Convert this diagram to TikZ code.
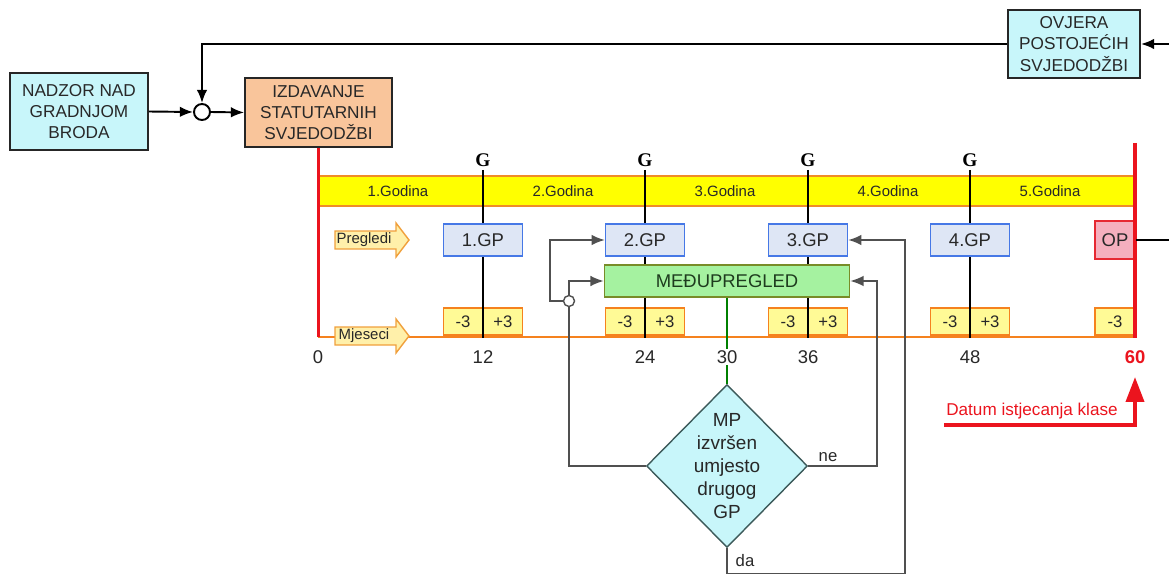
\documentclass[tikz,border=0pt]{standalone}
\usepackage{fontspec}
\setmainfont{Liberation Sans}
\newfontfamily\gfont{Liberation Serif}
\usepackage{tikz}
\usetikzlibrary{positioning,shapes,arrows,arrows.meta,calc}

\definecolor{boxcyan}{RGB}{200,246,250}
\definecolor{izdorange}{RGB}{249,197,155}
\definecolor{bandyellow}{RGB}{255,255,0}
\definecolor{bandorange}{RGB}{240,140,40}
\definecolor{gpfill}{RGB}{222,230,245}
\definecolor{gpblue}{RGB}{70,120,230}
\definecolor{opfill}{RGB}{245,175,190}
\definecolor{opred}{RGB}{230,40,50}
\definecolor{medfill}{RGB}{165,242,160}
\definecolor{medborder}{RGB}{120,140,40}
\definecolor{pmfill}{RGB}{255,250,150}
\definecolor{tlorange}{RGB}{245,130,30}
\definecolor{tagfill}{RGB}{255,240,170}
\definecolor{tagborder}{RGB}{240,160,60}
\definecolor{clsred}{RGB}{235,20,30}
\definecolor{linegrey}{RGB}{80,80,80}
\definecolor{mpborder}{RGB}{60,90,90}
\definecolor{txtgrey}{RGB}{40,40,40}
\definecolor{medtext}{RGB}{30,60,30}

\tikzset{
  box/.style={draw=black!85, line width=1.1pt, align=center, inner sep=0pt,
    text=txtgrey, font=\fontsize{9.8}{12}\selectfont},
  cyanbox/.style={box, fill=boxcyan},
  gpbox/.style={draw=gpblue, fill=gpfill, line width=0.9pt, text=txtgrey,
    minimum width=1.58cm, minimum height=0.64cm, inner sep=0pt,
    font=\fontsize{10.5}{12}\selectfont},
  pmbox/.style={draw=tlorange, fill=pmfill, line width=0.9pt,
    minimum height=0.54cm, inner sep=0pt},
  pmtext/.style={text=txtgrey, inner sep=0pt, font=\fontsize{9.5}{11}\selectfont},
  godtext/.style={text=txtgrey, font=\fontsize{8.5}{10}\selectfont},
  glabel/.style={inner sep=0pt, font=\gfont\bfseries\fontsize{11}{12}\selectfont},
  gline/.style={black, line width=1.1pt},
  redbar/.style={clsred, line width=2.2pt},
  tag/.style={draw=tagborder, fill=tagfill, line width=0.8pt},
  tagtext/.style={text=txtgrey, inner sep=0pt, font=\fontsize{8.5}{10}\selectfont},
  num/.style={text=txtgrey, fill=white, inner sep=1pt, font=\fontsize{10.5}{12}\selectfont},
  conn/.style={linegrey, line width=0.8pt},
  flow/.style={black, line width=1.1pt}
}

\begin{document}
\begin{tikzpicture}[x=0.02cm, y=-0.02cm, >={Latex[length=7.5pt,width=6pt]}]
\useasboundingbox (0,0) rectangle (1169,574);

% upper row
\node[cyanbox, minimum width=2.76cm, minimum height=1.54cm] (nadzor) at (79,111.5) {NADZOR NAD\\GRADNJOM\\BRODA};
\node[circle, draw, line width=1.1pt, fill=white, minimum size=0.32cm, inner sep=0pt] (sum) at (202,112) {};
\node[box, fill=izdorange, minimum width=2.94cm, minimum height=1.38cm] (izd) at (318.5,112.5) {IZDAVANJE\\STATUTARNIH\\SVJEDODŽBI};
\node[cyanbox, minimum width=2.64cm, minimum height=1.36cm] (ovjera) at (1074,44) {OVJERA\\POSTOJEĆIH\\SVJEDODŽBI};
\coordinate (ovjin) at (1169,44);
\draw[flow,->] (nadzor.east) -- (sum.west);
\draw[flow,->] (sum.east) -- (izd.west);
\draw[flow,->] (ovjera.west) -| (sum.north);
\draw[flow,->] (ovjin) -- (ovjera.east);

% years
\draw[draw=bandorange, fill=bandyellow, line width=1pt] (318,176) rectangle (1135,206);
\foreach \x/\n in {398/1,563/2,725/3,888/4,1050/5}
  \node[godtext] (god\n) at (\x,191) {\n.Godina};

% months
\coordinate (t0) at (318,337);
\coordinate (t60) at (1135,337);
\draw[tlorange, line width=1pt] (t0) -- (t60);
\foreach \yc/\txt/\nm in {240/Pregledi/pregl,336/Mjeseci/mjes} {
  \draw[tag] (335,\yc-9) -- (396,\yc-9) -- (396,\yc-17) -- (409,\yc)
    -- (396,\yc+17) -- (396,\yc+9) -- (335,\yc+9) -- cycle;
  \node[tagtext] (\nm) at (364,\yc) {\txt};
}

% inspections
\foreach \x/\n in {483/1,645/2,808/3,970/4} {
  \node[pmbox, minimum width=1.58cm] (pm\n) at (\x,321.5) {};
  \node[pmtext] (m\n) at (\x-20,321.5) {-3};
  \node[pmtext] (p\n) at (\x+20,321.5) {+3};
  \node[glabel] (g\n) at (\x,160) {G};
  \draw[gline] (g\n.south) ++(0,3) -- (\x,338);
  \node[gpbox] (gp\n) at (\x,240) {\n.GP};
}
\node[pmbox, minimum width=0.8cm] (pm5) at (1115,321.5) {};
\node[pmtext] (m5) at (1115,321.5) {-3};
\node[draw=opred, fill=opfill, line width=0.9pt, minimum width=0.8cm, minimum height=0.76cm,
  inner sep=0pt, text=txtgrey, font=\fontsize{10.5}{12}\selectfont] (op) at (1115,240) {OP};
\node[draw=medborder, fill=medfill, line width=1pt, minimum width=4.9cm, minimum height=0.64cm,
  inner sep=0pt, text=medtext, font=\fontsize{10.5}{12}\selectfont] (medju) at (727,281) {MEĐUPREGLED};

% red limits
\draw[redbar] (izd.south) -- (izd.south |- t0);
\draw[redbar] (1135,143) -- (1135,338);
\coordinate (opout) at (1169,240);
\draw[flow] (op.east) -- (opout);

% decision
\node[diamond, draw=mpborder, fill=boxcyan, line width=0.8pt, minimum width=3.22cm,
  minimum height=3.26cm, inner sep=0pt] (mp) at (727,466) {};
\node[align=center, text=txtgrey, font=\fontsize{10.8}{13}\selectfont] (mptext) at (mp.center) {MP\\izvršen\\umjesto\\drugog\\GP};
\draw[green!50!black, line width=1pt] (medju.south) -- (mp.north);

\node[circle, draw=linegrey, fill=white, line width=0.8pt, minimum size=0.22cm, inner sep=0pt] (jn) at (569,301) {};
\coordinate (loopl) at (550,301);
\draw[conn] (mp.west) -| (jn.south);
\draw[conn,->] (jn.north) |- (medju.west);
\draw[conn,->] (jn.west) -- (loopl) |- (gp2.west);
\coordinate (nebend) at (877,281);
\draw[conn,->] (mp.east) -| (nebend) -- (medju.east);
\node[pmtext] (ne) at (828,457) {ne};
\coordinate (dacorner) at (905,573.5);
\draw[conn,->] (mp.south) |- (dacorner) |- (gp3.east);
\node[pmtext] (da) at (745,561) {da};

% month numbers
\foreach \x/\n in {318/0,483/12,645/24,727/30,808/36,970/48}
  \node[num] (n\n) at (\x,357) {\n};
\node[num, text=clsred, font=\bfseries\fontsize{10.5}{12}\selectfont] (n60) at (1135,357) {60};

% expiry
\node[text=clsred, inner sep=0pt, font=\fontsize{9.75}{12}\selectfont] (datum) at (1032,411) {Datum istjecanja klase};
\coordinate (datumstart) at (944,425);
\coordinate (datumtip) at (1135,377);
\draw[clsred, line width=2.2pt, -{Triangle[length=0.5cm,width=0.36cm]}] (datumstart) -| (datumtip);
\end{tikzpicture}
\end{document}
